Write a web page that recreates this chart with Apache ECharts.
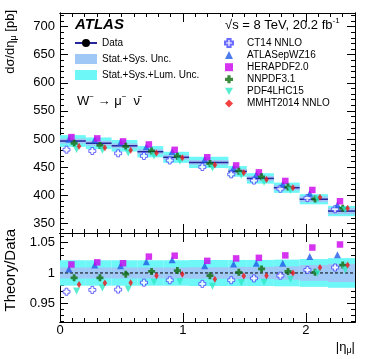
<!DOCTYPE html>
<html>
<head>
<meta charset="utf-8">
<script src="https://cdn.jsdelivr.net/npm/echarts@6/dist/echarts.min.js"></script>
<style>
  html, body { margin: 0; padding: 0; background: #fff; }
  #main { width: 374px; height: 359px; }
</style>
</head>
<body>
<div id="main"></div>
<script>
// |eta_mu| bin edges and measured W- -> mu- nu cross sections [pb]
var binEdges = [0, 0.21, 0.42, 0.63, 0.84, 1.05, 1.37, 1.52, 1.74, 1.95, 2.18, 2.4];
var dataXsec = [496.5, 492.5, 488, 477.5, 467.5, 458.5, 442.5, 430, 413.5, 393, 372];
// relative uncertainties in percent
var sysUnc = [0.9, 0.9, 0.9, 0.9, 0.9, 0.95, 1.0, 1.0, 1.1, 1.3, 1.5];
var totUnc = [2.1, 2.1, 2.1, 2.1, 2.1, 2.15, 2.15, 2.15, 2.2, 2.3, 2.45];

// theory / data
var ratioCT14 = [0.969, 0.972, 0.9725, 0.984, 0.988, 0.982, 0.988, 0.991, 0.9955, 1.005, 1.009];
var ratioATLAS = [1.0066, 1.013, 1.012, 1.0186, 1.022, 1.012, 1.015, 1.016, 1.016, 1.027, 1.030];
var ratioHERA = [1.014, 1.0175, 1.016, 1.027, 1.0285, 1.020, 1.024, 1.025, 1.029, 1.042, 1.047];
var ratioNNPDF = [0.992, 0.992, 0.998, 1.0026, 1.004, 0.9955, 1.001, 1.0066, 1.0026, 1.001, 1.013];
var ratioPDF4LHC = [0.970, 0.975, 0.9735, 0.985, 0.9856, 0.978, 0.984, 0.9845, 0.9895, 1.000, 1.005];
var ratioMMHT = [0.981, 0.9835, 0.984, 0.9955, 0.998, 0.9895, 0.995, 0.9955, 1.000, 1.009, 1.013];

var xTickLabels = [0, 1, 2];
var yTickLabelsTop = [350, 400, 450, 500, 550, 600, 650, 700];
var yTickLabelsRatio = [0.95, 1, 1.05];

var FONT = 'Liberation Sans, Arial, sans-serif';
var CROSS = 'path://M3,0H7V3H10V7H7V10H3V7H0V3H3Z';

// predictions, drawn side by side inside each bin
var theories = [
  { name: 'CT14 NNLO', ratio: ratioCT14, shift: -0.052, symbol: CROSS, size: 7,
    style: { color: '#fff', borderColor: '#4646ff', borderWidth: 1 } },
  { name: 'ATLASepWZ16', ratio: ratioATLAS, shift: -0.033, symbol: 'triangle', size: 7,
    style: { color: '#1f5ae6' } },
  { name: 'HERAPDF2.0', ratio: ratioHERA, shift: -0.012, symbol: 'rect', size: 6.5,
    style: { color: '#cc00ee' } },
  { name: 'NNPDF3.1', ratio: ratioNNPDF, shift: 0.01, symbol: CROSS, size: 7,
    style: { color: '#0b6b0b' } },
  { name: 'PDF4LHC15', ratio: ratioPDF4LHC, shift: 0.03, symbol: 'path://M0,0H10L5,9Z', size: 7,
    style: { color: '#30e8c4' } },
  { name: 'MMHT2014 NNLO', ratio: ratioMMHT, shift: 0.05, symbol: 'diamond', size: [4.5, 7],
    style: { color: '#ee1111' } }
];

function range(a, b, step) {
  var out = [];
  for (var v = a; v <= b + 1e-9; v += step) out.push(+v.toFixed(4));
  return out;
}

var xAxis = [], yAxis = [];
function addX(grid, pos, vals, len, showLabel) {
  xAxis.push({
    type: 'value', gridIndex: grid, position: pos, min: 0, max: 2.4,
    axisLine: { show: true, onZero: false, lineStyle: { color: '#000', width: 1 } },
    axisTick: { show: true, inside: true, length: len, customValues: vals, lineStyle: { color: '#000' } },
    axisLabel: { show: showLabel, customValues: vals, margin: 2, fontSize: 13, color: '#000', fontFamily: FONT },
    splitLine: { show: false }
  });
}
function addY(grid, pos, min, max, vals, len, showLabel) {
  yAxis.push({
    type: 'value', gridIndex: grid, position: pos, min: min, max: max,
    axisLine: { show: true, onZero: false, lineStyle: { color: '#000', width: 1 } },
    axisTick: { show: true, inside: true, length: len, customValues: vals, lineStyle: { color: '#000' } },
    axisLabel: { show: showLabel, customValues: vals, margin: 5, fontSize: 13, color: '#000', fontFamily: FONT },
    splitLine: { show: false }
  });
}

var TOP_MIN = 333, TOP_MAX = 724, R_MIN = 0.919, R_MAX = 1.066;

// main axes first (index 0 = top pad, index 1 = ratio pad)
addX(0, 'bottom', xTickLabels, 9, false);
addX(1, 'bottom', xTickLabels, 9, true);
addX(0, 'bottom', range(0, 2.4, 0.1), 4, false);
addX(1, 'bottom', range(0, 2.4, 0.1), 4, false);
addX(0, 'top', xTickLabels, 9, false);
addX(0, 'top', range(0, 2.4, 0.1), 4, false);
addX(1, 'top', xTickLabels, 9, false);
addX(1, 'top', range(0, 2.4, 0.1), 4, false);

addY(0, 'left', TOP_MIN, TOP_MAX, yTickLabelsTop, 8, true);
addY(1, 'left', R_MIN, R_MAX, yTickLabelsRatio, 8, true);
addY(0, 'left', TOP_MIN, TOP_MAX, range(340, 720, 10), 4, false);
addY(1, 'left', R_MIN, R_MAX, range(0.92, 1.06, 0.01), 4, false);
addY(0, 'right', TOP_MIN, TOP_MAX, yTickLabelsTop, 8, false);
addY(0, 'right', TOP_MIN, TOP_MAX, range(340, 720, 10), 4, false);
addY(1, 'right', R_MIN, R_MAX, yTickLabelsRatio, 8, false);
addY(1, 'right', R_MIN, R_MAX, range(0.92, 1.06, 0.01), 4, false);

function rectItem(params, api) {
  var p1 = api.coord([api.value(0), api.value(3)]);
  var p2 = api.coord([api.value(1), api.value(2)]);
  return { type: 'rect', shape: { x: p1[0], y: p1[1], width: p2[0] - p1[0], height: p2[1] - p1[1] },
           style: { fill: api.visual('color') } };
}
function lineItem(params, api) {
  var a = api.coord([api.value(0), api.value(2)]);
  var b = api.coord([api.value(1), api.value(2)]);
  return { type: 'line', shape: { x1: a[0], y1: a[1], x2: b[0], y2: b[1] },
           style: { stroke: '#25259c', lineWidth: 1.5 } };
}

var bandTop = [], bandSysTop = [], bandR = [], bandSysR = [], dataLines = [];
for (var i = 0; i < dataXsec.length; i++) {
  var lo = binEdges[i], hi = binEdges[i + 1], v = dataXsec[i];
  var t = totUnc[i] / 100, s = sysUnc[i] / 100;
  bandTop.push([lo, hi, v * (1 - t), v * (1 + t)]);
  bandSysTop.push([lo, hi, v * (1 - s), v * (1 + s)]);
  bandR.push([lo, hi, 1 - t, 1 + t]);
  bandSysR.push([lo, hi, 1 - s, 1 + s]);
  dataLines.push([lo, hi, v]);
}

var CYAN = '#6ef7f7', LBLUE = '#9fc8f6';
var series = [
  { name: 'Stat.+Sys.+Lum. Unc.', type: 'custom', xAxisIndex: 0, yAxisIndex: 0, renderItem: rectItem,
    itemStyle: { color: CYAN }, data: bandTop, encode: { x: [0, 1], y: [2, 3] } },
  { name: 'Stat.+Sys. Unc.', type: 'custom', xAxisIndex: 0, yAxisIndex: 0, renderItem: rectItem,
    itemStyle: { color: LBLUE }, data: bandSysTop, encode: { x: [0, 1], y: [2, 3] } },
  { name: 'dataBins', type: 'custom', xAxisIndex: 0, yAxisIndex: 0, renderItem: lineItem,
    data: dataLines, encode: { x: [0, 1], y: 2 } },
  { name: 'Data', type: 'line', xAxisIndex: 0, yAxisIndex: 0, data: [], symbol: 'circle', symbolSize: 7,
    lineStyle: { color: '#25259c', width: 1.5 }, itemStyle: { color: '#000' } },
  { name: 'Stat.+Sys.+Lum. Unc.', type: 'custom', xAxisIndex: 1, yAxisIndex: 1, renderItem: rectItem,
    itemStyle: { color: CYAN }, data: bandR, encode: { x: [0, 1], y: [2, 3] } },
  { name: 'Stat.+Sys. Unc.', type: 'custom', xAxisIndex: 1, yAxisIndex: 1, renderItem: rectItem,
    itemStyle: { color: LBLUE }, data: bandSysR, encode: { x: [0, 1], y: [2, 3] } },
  { name: 'unity', type: 'line', xAxisIndex: 1, yAxisIndex: 1, data: [[0, 1], [2.4, 1]], symbol: 'none',
    lineStyle: { color: '#000', width: 1, type: [3, 2] } }
];

theories.forEach(function (th) {
  var top = [], rat = [];
  for (var k = 0; k < dataXsec.length; k++) {
    var x = (binEdges[k] + binEdges[k + 1]) / 2 + th.shift;
    top.push([x, dataXsec[k] * th.ratio[k]]);
    rat.push([x, th.ratio[k]]);
  }
  [[0, top], [1, rat]].forEach(function (pair) {
    series.push({ name: th.name, type: 'scatter', xAxisIndex: pair[0], yAxisIndex: pair[0],
      symbol: th.symbol, symbolSize: th.size, itemStyle: th.style, data: pair[1], z: 5 });
  });
});

var sup = { fontSize: 8, verticalAlign: 'top', lineHeight: 16, fontFamily: FONT, fill: '#000' };
var sub = { fontSize: 9, verticalAlign: 'bottom', lineHeight: 16, fontFamily: FONT, fill: '#000' };

var chart = echarts.init(document.getElementById('main'));
chart.setOption({
  animation: false,
  backgroundColor: '#fff',
  grid: [
    { left: 60, top: 13, width: 295, height: 220 },
    { left: 60, top: 233, width: 295, height: 89 }
  ],
  xAxis: xAxis,
  yAxis: yAxis,
  legend: [
    { data: [{ name: 'Data' }, { name: 'Stat.+Sys. Unc.', icon: 'rect' }, { name: 'Stat.+Sys.+Lum. Unc.', icon: 'rect' }],
      orient: 'vertical', left: 74, top: 38, itemWidth: 22, itemHeight: 10, itemGap: 6, padding: 0,
      selectedMode: false, textStyle: { fontSize: 10, color: '#000', fontFamily: FONT } },
    { data: theories.map(function (t) { return t.name; }),
      orient: 'vertical', left: 224, top: 38, itemWidth: 8, itemHeight: 8, itemGap: 2.1, padding: 0,
      selectedMode: false, textStyle: { fontSize: 10, color: '#000', fontFamily: FONT, padding: [0, 0, 0, 9] } }
  ],
  graphic: [
    { type: 'text', left: 75, top: 17,
      style: { text: 'ATLAS', fontSize: 15, fontWeight: 'bold', fontStyle: 'italic', fontFamily: FONT, fill: '#000' } },
    { type: 'text', left: 225, top: 17,
      style: { text: '√s = 8 TeV, 20.2 fb{s|-1}', fontSize: 13, lineHeight: 16, fontFamily: FONT, fill: '#000',
               rich: { s: sup } } },
    { type: 'text', left: 77, top: 93,
      style: { text: 'W{s|−} → μ{s|−}  ν̄', fontSize: 13, lineHeight: 16, fontFamily: FONT, fill: '#000',
               rich: { s: sup } } },
    { type: 'text', x: 10, y: 10, rotation: Math.PI / 2,
      style: { text: 'dσ/dη{u|μ} [pb]', align: 'right', verticalAlign: 'middle', fontSize: 13, lineHeight: 16,
               fontFamily: FONT, fill: '#000', rich: { u: sub } } },
    { type: 'text', x: 11, y: 229, rotation: Math.PI / 2,
      style: { text: 'Theory/Data', align: 'right', verticalAlign: 'middle', fontSize: 15,
               fontFamily: FONT, fill: '#000' } },
    { type: 'text', x: 355, y: 347,
      style: { text: '|η{u|μ}|', align: 'right', verticalAlign: 'middle', fontSize: 13, lineHeight: 16,
               fontFamily: FONT, fill: '#000', rich: { u: sub } } }
  ],
  series: series
});
</script>
</body>
</html>
